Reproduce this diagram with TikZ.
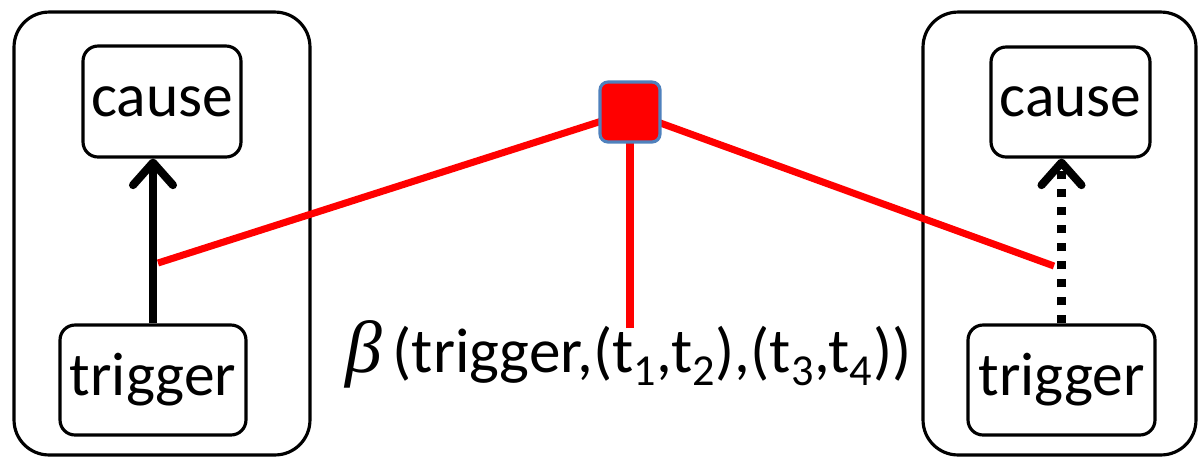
\documentclass[tikz,border=0pt]{standalone}
\usepackage{fontspec}
\setmainfont{Carlito}
\newfontfamily\greekfont{Liberation Serif}
\usetikzlibrary{arrows.meta}
\definecolor{edgeblue}{RGB}{79,129,189}
\begin{document}
\begin{tikzpicture}[x=0.02cm,y=-0.02cm,font=\fontsize{35}{42}\selectfont,
	frame/.style={draw,line width=1.8pt,rounded corners=0.7cm,inner sep=0pt},
	box/.style={draw,line width=1.8pt,rounded corners=0.3cm,inner sep=0pt},
	link/.style={red,line width=4pt},
	causal/.style={line width=4.6pt,-{Straight Barb[length=0.45cm,width=0.8cm,line cap=round,line join=round]}}]
		\useasboundingbox (0,0) rectangle (1200,458);
		% two copies of the model
		\node[frame,minimum width=5.92cm,minimum height=8.86cm] (lframe) at (162,233.5) {};
		\node[frame,minimum width=5.46cm,minimum height=8.86cm] (rframe) at (1059.5,233.5) {};
		\node[box,minimum width=3.16cm,minimum height=2.22cm] (lcause) at (162,101.5) {cause};
		\node[box,minimum width=3.72cm,minimum height=2.2cm] (ltrig) at (153,380) {trigger};
		\node[box,minimum width=3.18cm,minimum height=2.2cm] (rcause) at (1070.5,102) {cause};
		\node[box,minimum width=3.74cm,minimum height=2.2cm] (rtrig) at (1061.5,380) {trigger};
		\node[anchor=base west,inner sep=0pt,font=\fontsize{36}{42}\selectfont] (formula) at (345,372) {{\greekfont\itshape\fontsize{42}{42}\selectfont β}\,(trigger,(t\textsubscript{1},t\textsubscript{2}),(t\textsubscript{3},t\textsubscript{4}))};
		% factor
		\coordinate (sqc) at (630,112);
		\coordinate (lhit) at (158,263);
		\coordinate (rhit) at (1054,266);
		\coordinate (fhit) at (630,328);
		\draw[link] (lhit) -- (sqc);
		\draw[link] (rhit) -- (sqc);
		\draw[link] (fhit) -- (sqc);
		\draw[causal] (ltrig.north) -- (ltrig.north |- lcause.south);
		\draw[causal,dash pattern=on 0.16cm off 0.2cm] (rtrig.north) -- (rtrig.north |- rcause.south);
		\node[draw=edgeblue,fill=red,line width=1.8pt,rounded corners=0.16cm,minimum size=1.2cm,inner sep=0pt] (sq) at (sqc) {};
	\end{tikzpicture}
\end{document}
